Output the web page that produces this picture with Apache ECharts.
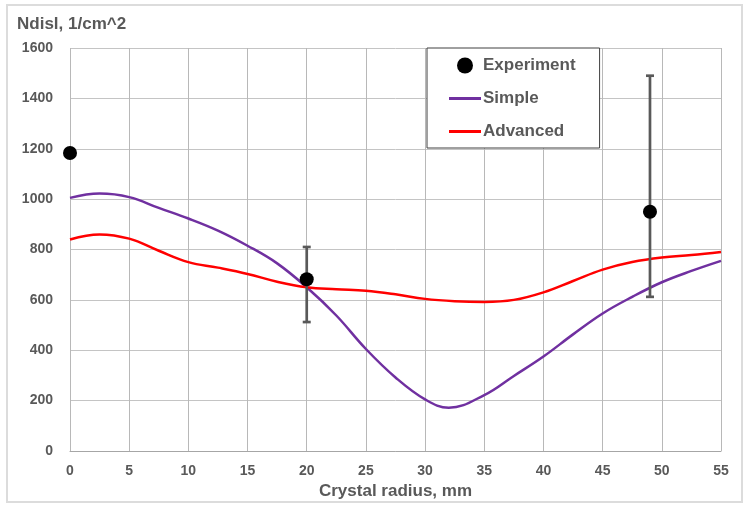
<!DOCTYPE html>
<html>
<head>
<meta charset="utf-8">
<title>Ndisl vs crystal radius</title>
<script src="https://cdn.jsdelivr.net/npm/echarts@6/dist/echarts.min.js"></script>
<style>
  html, body { margin: 0; padding: 0; background: #fff; }
  #main { position: absolute; left: 0; top: 0; width: 748px; height: 506px; }
  .frame { position: absolute; left: 6px; top: 4px; width: 733px; height: 495px; border: 2px solid #dcdcdc; pointer-events: none; }
</style>
</head>
<body>
<div id="main"></div>
<div class="frame"></div>
<script>
// Experiment: radius, value, error low, error high
var expX = [0, 20, 49];
var expY = [1183, 682, 950];
var errLow = [null, 512, 612];
var errHigh = [null, 810, 1490];

// model curves
var simpleX = [0, 2.5, 5, 7.5, 10, 12.5, 15, 17.5, 20, 22.5, 25, 27.5, 30, 32, 35, 37.5, 40, 42.5, 45, 47.5, 50, 52.5, 55];
var simpleY = [1005, 1022, 1008, 965, 923, 875, 815, 745, 650, 538, 405, 292, 205, 172, 222, 298, 375, 463, 546, 612, 670, 715, 755];

var advX = [0, 2.5, 5, 7.5, 10, 12.5, 15, 17.5, 20, 22.5, 25, 27.5, 30, 32.5, 35, 37.5, 40, 42.5, 45, 47.5, 50, 52.5, 55];
var advY = [840, 860, 843, 795, 750, 728, 703, 672, 650, 642, 636, 622, 604, 595, 592, 600, 630, 675, 720, 750, 768, 778, 790];

function pairs(xs, ys) {
  return xs.map(function (x, i) { return [x, ys[i]]; });
}

var errData = [];
expX.forEach(function (x, i) {
  if (errLow[i] != null) errData.push([x, errLow[i], errHigh[i]]);
});

var txt = '#595959';
var font = "'Liberation Sans', Arial, sans-serif";
var lineIcon = 'path://M0,0 L32,0 L32,3 L0,3 Z';

var myChart = echarts.init(document.getElementById('main'));
var option = {
  animation: false,
  title: {
    text: 'Ndisl, 1/cm^2',
    left: 12,
    top: 11,
    textStyle: { color: txt, fontSize: 17, fontWeight: 'bold', fontFamily: font }
  },
  grid: { left: 70, right: 27, top: 48, bottom: 55 },
  legend: {
    orient: 'vertical',
    left: 427,
    top: 48,
    padding: [8, 24, 7, 22],
    itemGap: 14,
    itemWidth: 32,
    itemHeight: 16,
    backgroundColor: '#fff',
    borderColor: '#404040',
    borderWidth: 1,
    data: [
      { name: 'Experiment', icon: 'circle' },
      { name: 'Simple', icon: lineIcon },
      { name: 'Advanced', icon: lineIcon }
    ],
    textStyle: { color: txt, fontSize: 17, fontWeight: 'bold', fontFamily: font, lineHeight: 19, padding: [0, 0, 0, -3] }
  },
  xAxis: {
    type: 'value',
    min: 0,
    max: 55,
    interval: 5,
    name: 'Crystal radius, mm',
    nameLocation: 'middle',
    nameGap: 31,
    nameTextStyle: { color: txt, fontSize: 17, fontWeight: 'bold', fontFamily: font },
    axisLine: { lineStyle: { color: '#a6a6a6', width: 1 } },
    axisTick: { show: false },
    axisLabel: { color: txt, fontSize: 14, fontWeight: 'bold', fontFamily: font, margin: 13 },
    splitLine: { show: true, lineStyle: { color: '#b8b8b8', width: 1 } }
  },
  yAxis: {
    type: 'value',
    min: 0,
    max: 1600,
    interval: 200,
    axisLine: { show: false },
    axisTick: { show: false },
    axisLabel: {
      color: txt, fontSize: 14, fontWeight: 'bold', fontFamily: font, margin: 17,
      formatter: function (v) { return String(v); }
    },
    splitLine: { show: true, lineStyle: { color: '#c4c4c4', width: 1 } }
  },
  series: [
    {
      name: 'Simple',
      type: 'line',
      data: pairs(simpleX, simpleY),
      smooth: 0.4,
      symbol: 'none',
      lineStyle: { color: '#7030a0', width: 2.5 },
      itemStyle: { color: '#7030a0' },
      z: 2
    },
    {
      name: 'Advanced',
      type: 'line',
      data: pairs(advX, advY),
      smooth: 0.4,
      symbol: 'none',
      lineStyle: { color: '#ff0000', width: 2.5 },
      itemStyle: { color: '#ff0000' },
      z: 2
    },
    {
      name: 'err',
      type: 'custom',
      data: errData,
      z: 3,
      renderItem: function (params, api) {
        var lo = api.coord([api.value(0), api.value(1)]);
        var hi = api.coord([api.value(0), api.value(2)]);
        var cap = 4;
        var st = { stroke: '#595959', lineWidth: 2.7 };
        return {
          type: 'group',
          children: [
            { type: 'line', shape: { x1: lo[0], y1: lo[1], x2: hi[0], y2: hi[1] }, style: st },
            { type: 'line', shape: { x1: lo[0] - cap, y1: lo[1], x2: lo[0] + cap, y2: lo[1] }, style: st },
            { type: 'line', shape: { x1: hi[0] - cap, y1: hi[1], x2: hi[0] + cap, y2: hi[1] }, style: st }
          ]
        };
      }
    },
    {
      name: 'Experiment',
      type: 'scatter',
      data: pairs(expX, expY),
      symbol: 'circle',
      symbolSize: 14,
      itemStyle: { color: '#000', opacity: 1 },
      z: 4
    }
  ]
};
myChart.setOption(option);
</script>
</body>
</html>
